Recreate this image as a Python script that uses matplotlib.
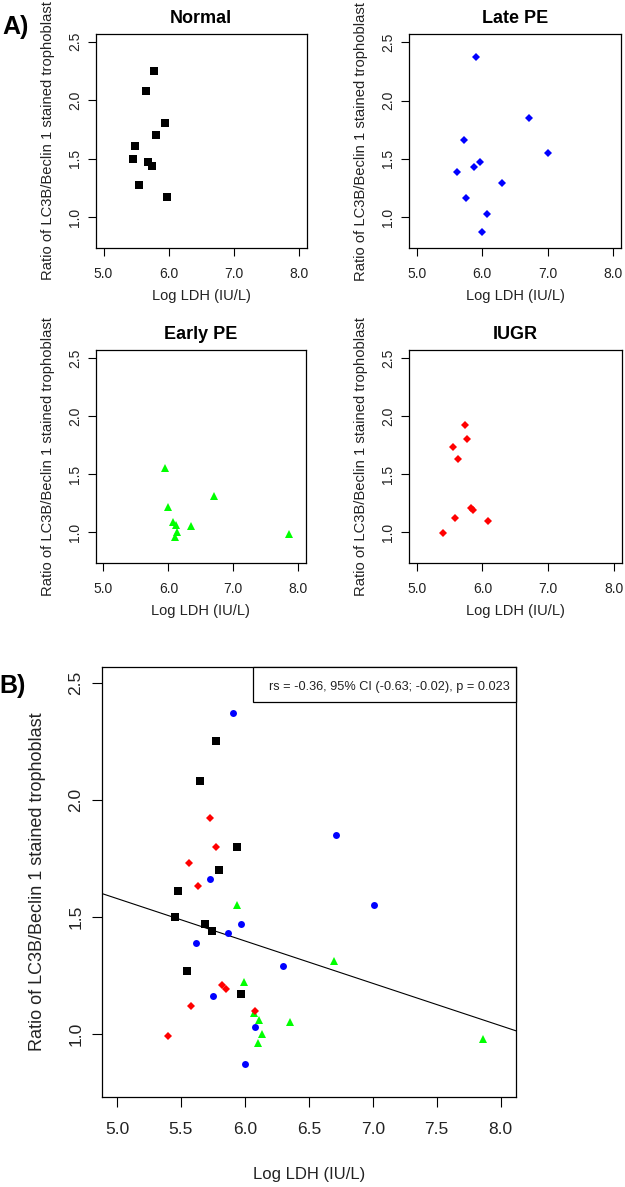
import matplotlib
matplotlib.use("Agg")
import matplotlib.pyplot as plt
from matplotlib.patches import Rectangle

plt.rcParams["font.family"] = ["Liberation Sans", "DejaVu Sans"]

# ── data ─────────────────────────────────────────────────────────────────
normal_x = [5.77, 5.65, 5.94, 5.80, 5.48, 5.45, 5.69, 5.74, 5.55, 5.97]
normal_y = [2.25, 2.08, 1.80, 1.70, 1.61, 1.50, 1.47, 1.44, 1.27, 1.17]

late_x = [5.91, 6.71, 5.73, 7.01, 5.97, 5.87, 5.62, 6.30, 5.75, 6.08, 6.00]
late_y = [2.37, 1.85, 1.66, 1.55, 1.47, 1.43, 1.39, 1.29, 1.16, 1.03, 0.87]

early_x = [5.94, 6.70, 5.99, 6.07, 6.11, 6.35, 6.13, 6.10, 7.86]
early_y = [1.55, 1.31, 1.22, 1.09, 1.06, 1.05, 1.00, 0.96, 0.98]

iugr_x = [5.73, 5.77, 5.56, 5.63, 5.82, 5.85, 5.58, 6.08, 5.40]
iugr_y = [1.92, 1.80, 1.73, 1.63, 1.21, 1.19, 1.12, 1.10, 0.99]

fit_intercept = 2.483
fit_slope = -0.181

stats_text = "rs = -0.36, 95% CI (-0.63; -0.02), p = 0.023"

x_ticks = [5.0, 6.0, 7.0, 8.0]
x_ticks_b = [5.0, 5.5, 6.0, 6.5, 7.0, 7.5, 8.0]
y_ticks = [1.0, 1.5, 2.0, 2.5]

YLAB = "Ratio of LC3B/Beclin 1 stained trophoblast"
XLAB = "Log LDH (IU/L)"
TXT = "#222222"

groups = [
    ("Normal", normal_x, normal_y, "black", "s", 5.5),
    ("Late PE", late_x, late_y, "#0000FF", "D", 4.3),
    ("Early PE", early_x, early_y, "#00FF00", "^", 5.5),
    ("IUGR", iugr_x, iugr_y, "#FF0000", "D", 4.3),
]


def r_limits(ax, xlim, ylim):
    # R's default 4% axis extension
    dx = (xlim[1] - xlim[0]) * 0.04
    dy = (ylim[1] - ylim[0]) * 0.04
    ax.set_xlim(xlim[0] - dx, xlim[1] + dx)
    ax.set_ylim(ylim[0] - dy, ylim[1] + dy)


def style_axes(ax, xt, fs, tlen, xpad, ypad):
    ax.set_xticks(xt)
    ax.set_xticklabels([f"{v:.1f}" for v in xt])
    ax.set_yticks(y_ticks)
    ax.set_yticklabels([f"{v:.1f}" for v in y_ticks], rotation=90, va="center")
    ax.tick_params(direction="out", length=tlen, width=0.8, labelsize=fs,
                   labelcolor=TXT)
    ax.tick_params(axis="x", pad=xpad)
    ax.tick_params(axis="y", pad=ypad)
    for s in ax.spines.values():
        s.set_linewidth(0.9)


fig = plt.figure(figsize=(6.25, 11.87), dpi=100)

W, H = 625.0, 1187.0
boxes = [(95.7, 33.7, 306.7, 248.3), (408.7, 34.3, 621.3, 248.3),
         (95.7, 350.0, 306.0, 563.3), (408.7, 350.0, 622.0, 563.3)]

for (title, xs, ys, col, mk, ms), (l, t, r, b) in zip(groups, boxes):
    ax = fig.add_axes([l / W, 1 - b / H, (r - l) / W, (b - t) / H])
    ax.plot(xs, ys, linestyle="none", marker=mk, color=col, markersize=ms,
            markeredgewidth=0)
    r_limits(ax, (5, 8), (0.8, 2.5))
    style_axes(ax, x_ticks, 10, 5.8, 8, 4)
    ax.set_title(title, fontsize=13, fontweight="bold", pad=8)
    ax.text(0.5, -47.5 / (b - t), XLAB, transform=ax.transAxes,
            ha="center", va="center", fontsize=10.5, color=TXT)
    ax.text(-47.7 / (r - l), 0.5, YLAB, transform=ax.transAxes,
            ha="center", va="center", rotation=90, fontsize=10.6, color=TXT)

fig.text(16 / W, 1 - 27 / H, "A)", fontsize=18, fontweight="bold",
         ha="center", va="center")

# ── panel B ───────────────────────────────────────────────────────────────
l, t, r, b = 101.7, 666.7, 516.0, 1096.7
axb = fig.add_axes([l / W, 1 - b / H, (r - l) / W, (b - t) / H])
b_marker = {"Late PE": ("o", 5.0)}
for title, xs, ys, col, mk, ms in groups:
    mk, ms = b_marker.get(title, (mk, ms))
    axb.plot(xs, ys, linestyle="none", marker=mk, color=col, markersize=ms,
             markeredgewidth=0, zorder=3)
axb.axline((0, fit_intercept), slope=fit_slope, color="black", linewidth=0.8)
r_limits(axb, (5, 8), (0.8, 2.5))
style_axes(axb, x_ticks_b, 12.5, 7.2, 11, 6)
axb.text(0.5, -78 / (b - t), XLAB, transform=axb.transAxes,
         ha="center", va="center", fontsize=12, color=TXT)
axb.text(-63.7 / (r - l), 0.5, YLAB, transform=axb.transAxes,
         ha="center", va="center", rotation=90, fontsize=13, color=TXT)

bx0 = (252.7 - l) / (r - l)
by0 = 1 - (702.3 - t) / (b - t)
axb.add_patch(Rectangle((bx0, by0), 1 - bx0, 1 - by0, transform=axb.transAxes,
                        facecolor="white", edgecolor="black", linewidth=0.9,
                        zorder=4, clip_on=False))
axb.text((510 - l) / (r - l), 1 - (686.7 - t) / (b - t), stats_text,
         transform=axb.transAxes, ha="right", va="center", fontsize=9.2,
         color=TXT, zorder=5)

fig.text(13 / W, 1 - 686 / H, "B)", fontsize=18, fontweight="bold",
         ha="center", va="center")

fig.savefig("out.png", dpi=100)
